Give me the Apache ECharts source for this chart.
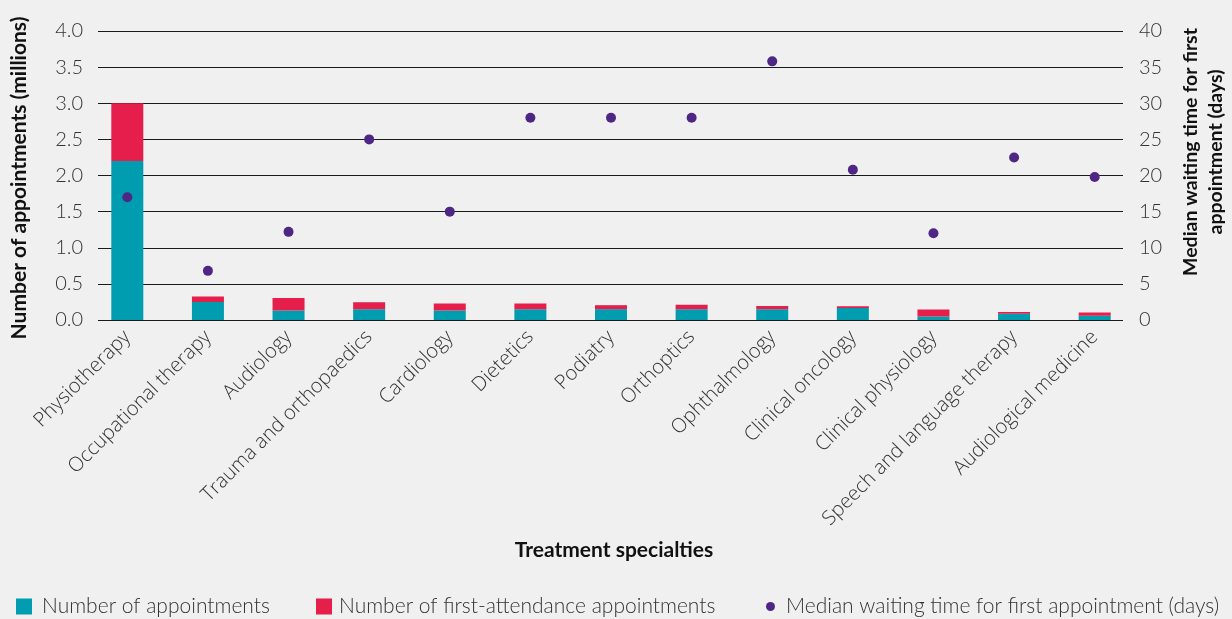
<!DOCTYPE html>
<html>
<head>
<meta charset="utf-8">
<script src="https://cdn.jsdelivr.net/npm/echarts@6/dist/echarts.min.js"></script>
<style>
  html, body { margin: 0; padding: 0; background: #f0f0f0; }
  #chart { width: 1232px; height: 619px; }
</style>
</head>
<body>
<div id="chart"></div>
<script>
var specialties = ['Physiotherapy', 'Occupational therapy', 'Audiology', 'Trauma and orthopaedics',
    'Cardiology', 'Dietetics', 'Podiatry', 'Orthoptics', 'Ophthalmology', 'Clinical oncology',
    'Clinical physiology', 'Speech and language therapy', 'Audiological medicine'];
// millions
var appointments = [2.2, 0.25, 0.13, 0.15, 0.13, 0.15, 0.15, 0.15, 0.15, 0.165, 0.05, 0.085, 0.06];
var firstAttendance = [0.8, 0.075, 0.175, 0.095, 0.1, 0.08, 0.055, 0.06, 0.045, 0.025, 0.095, 0.025, 0.045];
// days
var medianWait = [17, 6.8, 12.2, 25, 15, 28, 28, 28, 35.8, 20.8, 12, 22.5, 19.8];

var leftTicks = [0, 4, 0.5];
var rightTicks = [0, 40, 5];

var tickFont = { fontFamily: 'Lato', fontWeight: 300, fontSize: 20, color: '#333' };
var legendText = { fontFamily: 'Lato', fontWeight: 300, fontSize: 21, color: '#333' };

var chart = echarts.init(document.getElementById('chart'));

var option = {
    backgroundColor: '#f0f0f0',
    animation: false,
    grid: [
        { left: 98, right: 109, top: 31, bottom: 299 },
        { left: 87, right: 97, top: 31, bottom: 299 }
    ],
    xAxis: [
        { gridIndex: 0, type: 'value', show: false, min: 0, max: 1 },
        {
            gridIndex: 1, type: 'category', data: specialties,
            axisLine: { show: false }, axisTick: { show: false },
            axisLabel: {
                interval: 0, rotate: 45, margin: 14,
                fontFamily: 'Open Sans', fontWeight: 300, fontSize: 20, color: '#333'
            }
        }
    ],
    yAxis: [
        {
            gridIndex: 0, type: 'value', position: 'left',
            min: leftTicks[0], max: leftTicks[1], interval: leftTicks[2],
            axisLine: { show: false }, axisTick: { show: false },
            axisLabel: Object.assign({ margin: 15, formatter: function (v) { return v.toFixed(1); } }, tickFont),
            splitLine: { lineStyle: { color: '#1a1a1a', width: 1.2 } }
        },
        {
            gridIndex: 0, type: 'value', position: 'right',
            min: rightTicks[0], max: rightTicks[1], interval: rightTicks[2],
            axisLine: { show: false }, axisTick: { show: false },
            axisLabel: Object.assign({ margin: 16 }, tickFont),
            splitLine: { show: false }
        },
        { gridIndex: 1, type: 'value', min: leftTicks[0], max: leftTicks[1], show: false },
        { gridIndex: 1, type: 'value', min: rightTicks[0], max: rightTicks[1], show: false, position: 'right' }
    ],
    legend: [
        {
            data: ['Number of appointments'], left: 16, top: 596, padding: 0,
            itemWidth: 16, itemHeight: 16, icon: 'rect',
            textStyle: Object.assign({ padding: [0, 0, 0, 5] }, legendText)
        },
        {
            data: ['Number of first-attendance appointments'], left: 316, top: 596, padding: 0,
            itemWidth: 16, itemHeight: 16, icon: 'rect',
            textStyle: Object.assign({ padding: [0, 0, 0, 2] }, legendText)
        },
        {
            data: ['Median waiting time for first appointment (days)'], left: 766, top: 596, padding: 0,
            itemWidth: 9, itemHeight: 9, icon: 'circle',
            textStyle: Object.assign({ padding: [0, 0, 0, 6] }, legendText)
        }
    ],
    graphic: [
        {
            type: 'text', x: 19, y: 178, rotation: Math.PI / 2,
            style: {
                text: 'Number of appointments (millions)', align: 'center', verticalAlign: 'middle',
                fontFamily: 'Lato', fontWeight: 'bold', fontSize: 21, fill: '#111'
            }
        },
        {
            type: 'text', x: 1203, y: 152, rotation: Math.PI / 2,
            style: {
                text: 'Median waiting time for first\nappointment (days)', align: 'center', verticalAlign: 'middle',
                lineHeight: 25,
                fontFamily: 'Lato', fontWeight: 'bold', fontSize: 19.5, fill: '#111'
            }
        },
        {
            type: 'text', x: 614, y: 550,
            style: {
                text: 'Treatment specialties', align: 'center', verticalAlign: 'middle',
                fontFamily: 'Lato', fontWeight: 'bold', fontSize: 21, fill: '#111'
            }
        }
    ],
    series: [
        {
            name: 'Number of appointments', type: 'bar', stack: 'appt',
            xAxisIndex: 1, yAxisIndex: 2, barWidth: 32,
            itemStyle: { color: '#009cb0' },
            data: appointments
        },
        {
            name: 'Number of first-attendance appointments', type: 'bar', stack: 'appt',
            xAxisIndex: 1, yAxisIndex: 2, barWidth: 32,
            itemStyle: { color: '#e51e4b' },
            data: firstAttendance
        },
        {
            name: 'Median waiting time for first appointment (days)', type: 'scatter',
            xAxisIndex: 1, yAxisIndex: 3, symbolSize: 10, z: 5,
            itemStyle: { color: '#4f2683', opacity: 1 },
            data: medianWait
        }
    ]
};

chart.setOption(option);
window.onresize = chart.resize;
</script>
</body>
</html>
